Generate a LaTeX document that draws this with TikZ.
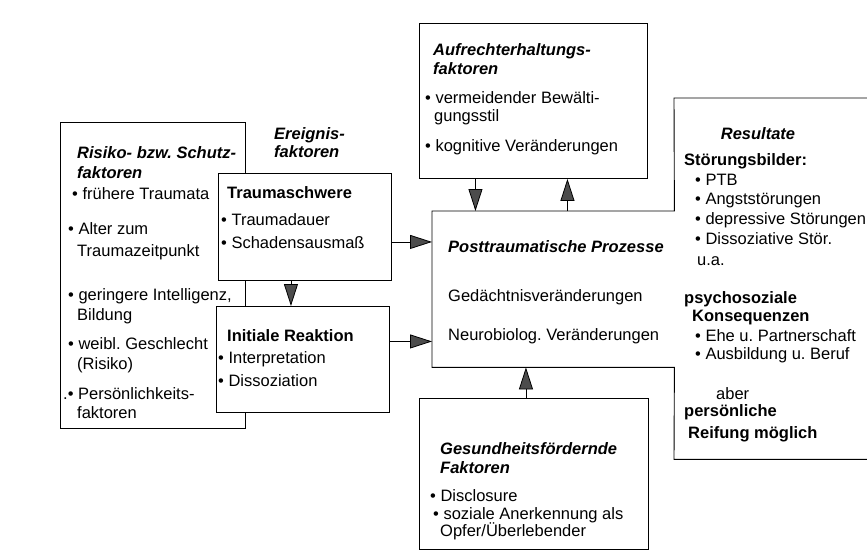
\documentclass[tikz,border=0pt]{standalone}
\usepackage{fontspec}
\setmainfont{Liberation Sans}
\usetikzlibrary{arrows.meta,positioning}
\newcommand{\schrift}{\fontsize{16.5}{20}\selectfont\frenchspacing}
\newcommand{\pkt}{\textbullet\ }
\newcommand{\ein}{\hspace*{9pt}}
\tikzset{
    kasten/.style={rectangle, draw, fill=white, line width=0.9pt, inner sep=0pt, anchor=north west},
    feld/.style={rectangle, inner sep=0pt, anchor=north west},
    txt/.style={anchor=base west, align=flush left, text width=230pt, inner sep=0pt, font=\schrift},
    kopf/.style={anchor=base, inner sep=0pt, font=\schrift},
    pfeil/.style={line width=0.8pt, -{Triangle[length=22pt,width=14pt,fill=black!70]}}
}
\begin{document}
\begin{tikzpicture}[x=1pt,y=-1pt]
            \clip (0,0) rectangle (867,551);
            \fill[white] (0,0) rectangle (867,551);
            \node[kasten, minimum width=185pt, minimum height=306pt] (risiko) at (60,122) {};
            \node[kasten, minimum width=173pt, minimum height=107pt] (schwere) at (218,173) {};
            \node[kasten, minimum width=173pt, minimum height=106pt] (reaktion) at (216,306) {};
            \node[kasten, minimum width=228pt, minimum height=155pt] (aufrecht) at (419,23) {};
            \node[kasten, minimum width=229pt, minimum height=151pt] (gesund) at (419,398) {};
            \node[feld, minimum width=242pt, minimum height=156pt] (prozesse) at (432,211) {};
            \node[feld, minimum width=206pt, minimum height=361pt] (resultate) at (674,98) {};
            \draw[line width=0.9pt] (prozesse.south west) -- (prozesse.north west) -- (prozesse.north east)
                -- (resultate.north west) -- (resultate.north east) -- (resultate.south east)
                -- (resultate.south west) -- (prozesse.south east) -- cycle;

            \node[txt] (t-risiko) at (68,158) {\ein\textbf{\textit{Risiko- bzw. Schutz-}}\\
                \ein\textbf{\textit{faktoren}}\\[1pt]
                \hspace*{4pt}\pkt frühere Traumata\\[15pt]
                \pkt Alter zum\\[2pt]
                \ein Traumazeitpunkt\\[24pt]
                \pkt geringere Intelligenz,\\
                \ein Bildung\\[9pt]
                \pkt weibl. Geschlecht\\
                \ein(Risiko)\\[10pt]
                \hspace*{-5pt}.\pkt Persönlichkeits-\\[-1pt]
                \ein faktoren};
            \node[txt] (t-ereignis) at (274,139) {\textbf{\textit{Ereignis-}}\\[-2pt]\textbf{\textit{faktoren}}};
            \node[txt] (t-schwere) at (221,198) {\hspace*{6pt}\textbf{Traumaschwere}\\[7pt]
                \pkt Traumadauer\\[3pt]
                \pkt Schadensausmaß};
            \node[txt] (t-reaktion) at (218,341) {\hspace*{9pt}\textbf{Initiale Reaktion}\\[2pt]
                \pkt Interpretation\\[3pt]
                \pkt Dissoziation};
            \node[txt] (t-aufrecht) at (425,56) {\hspace*{8pt}\textbf{\textit{Aufrechterhaltungs-}}\\[-1pt]
                \hspace*{8pt}\textbf{\textit{faktoren}}\\[9pt]
                \pkt vermeidender Bewälti-\\[-2pt]
                \ein gungsstil\\[10pt]
                \pkt kognitive Veränderungen};
            \node[txt] (t-prozesse) at (448,252) {\textbf{\textit{Posttraumatische Prozesse}}\\[29pt]
                Gedächtnisveränderungen\\[19pt]
                Neurobiolog. Veränderungen};
            \node[kopf] (t-resultate-kopf) at (758,139) {\textbf{\textit{Resultate}}};
            \node[txt] (t-resultate) at (684,165) {\textbf{Störungsbilder:}\\
                \hspace*{11pt}\pkt PTB\\[-1pt]
                \hspace*{11pt}\pkt Angststörungen\\
                \hspace*{11pt}\pkt depressive Störungen\\
                \hspace*{11pt}\pkt Dissoziative Stör.\\[1pt]
                \hspace*{13pt}u.a.\\[18pt]
                \textbf{psychosoziale}\\[-2pt]
                \hspace*{8pt}\textbf{Konsequenzen}\\
                \hspace*{11pt}\pkt Ehe u. Partnerschaft\\[-2pt]
                \hspace*{11pt}\pkt Ausbildung u. Beruf\\[20pt]
                \hspace*{32pt}aber\\[-3pt]
                \textbf{persönliche}\\[2pt]
                \hspace*{4pt}\textbf{Reifung möglich}};
            \node[txt] (t-gesund) at (430,454) {\hspace*{10pt}\textbf{\textit{Gesundheitsfördernde}}\\[-1pt]
                \hspace*{10pt}\textbf{\textit{Faktoren}}\\[8pt]
                \pkt Disclosure\\[-2pt]
                \hspace*{3pt}\pkt soziale Anerkennung als\\[-3pt]
                \hspace*{10pt}Opfer/Überlebender};

            \draw[pfeil] ([xshift=-14pt]schwere.south) -- ([xshift=-14pt]schwere.south |- reaktion.north);
            \draw[pfeil] ([yshift=-15pt]schwere.east) -- ([yshift=-15pt]schwere.east -| prozesse.west);
            \draw[pfeil] ([yshift=18pt]reaktion.east) -- ([yshift=18pt]reaktion.east -| prozesse.west);
            \draw[pfeil] ([xshift=-58pt]aufrecht.south) -- ([xshift=-58pt]aufrecht.south |- prozesse.north);
            \draw[pfeil] ([xshift=34pt]aufrecht.south |- prozesse.north) -- ([xshift=34pt]aufrecht.south);
            \draw[pfeil] ([xshift=-8pt]gesund.north) -- ([xshift=-8pt]gesund.north |- prozesse.south);
        \end{tikzpicture}
\end{document}
